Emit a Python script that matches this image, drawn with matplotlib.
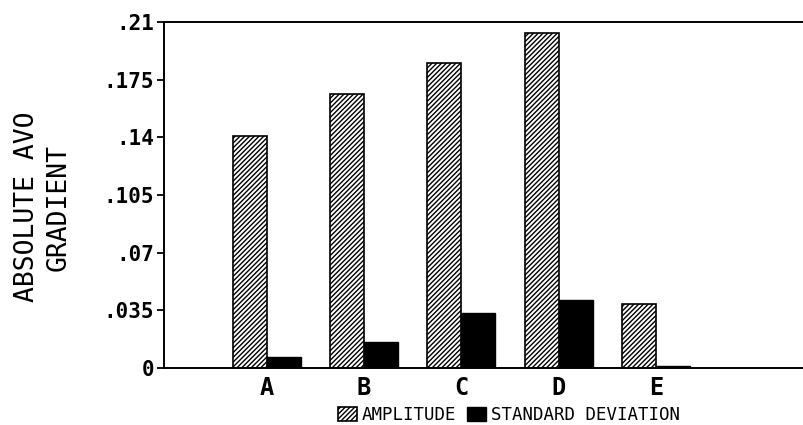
import numpy as np
import matplotlib.pyplot as plt

plt.rcParams['font.family'] = ['DejaVu Sans Mono']
plt.rcParams['font.weight'] = 'bold'
plt.rcParams['hatch.linewidth'] = 1.0

# data
sites = ['A', 'B', 'C', 'D', 'E']
amplitude = [0.141, 0.166, 0.185, 0.2035, 0.0387]
std_dev = [0.0064, 0.0155, 0.0334, 0.0415, 0.0010]
yticks = [0, 0.035, 0.07, 0.105, 0.14, 0.175, 0.21]
ytick_labels = ['0', '.035', '.07', '.105', '.14', '.175', '.21']

fig = plt.figure(figsize=(8.04, 4.25), dpi=100)
ax = fig.add_axes([164 / 804, 1 - 368 / 425, 640 / 804, 346 / 425])

x = np.arange(len(sites))
w = 0.35
ax.bar(x - w / 2, amplitude, w, facecolor='white', edgecolor='black',
       hatch='///////', linewidth=1.2, label='AMPLITUDE')
ax.bar(x + w / 2, std_dev, w, color='black', edgecolor='black',
       linewidth=1.0, label='STANDARD DEVIATION')

ax.set_xlim(-1.055, 5.52)
ax.set_ylim(0, 0.21)
ax.set_yticks(yticks)
ax.set_yticklabels(ytick_labels, fontsize=15)
ax.set_xticks(x)
ax.set_xticklabels(sites, fontsize=17)
ax.tick_params(axis='x', length=0, pad=6)
ax.tick_params(axis='y', length=5, width=1.3, pad=2)

ax.spines['right'].set_visible(False)
for s in ['left', 'top', 'bottom']:
    ax.spines[s].set_linewidth(1.4)

ax.set_ylabel('ABSOLUTE AVO\nGRADIENT', fontsize=19, fontweight='normal',
              linespacing=1.25)
ax.yaxis.set_label_coords(-0.145, 0.465)

fig.legend(loc='center', bbox_to_anchor=(509 / 804, 1 - 415 / 425), ncol=2,
           frameon=False, prop={'size': 12.5, 'weight': 'normal'},
           handlelength=1.1, handleheight=0.8,
           handletextpad=0.3, columnspacing=0.6)

fig.savefig('out.png', dpi=100)
